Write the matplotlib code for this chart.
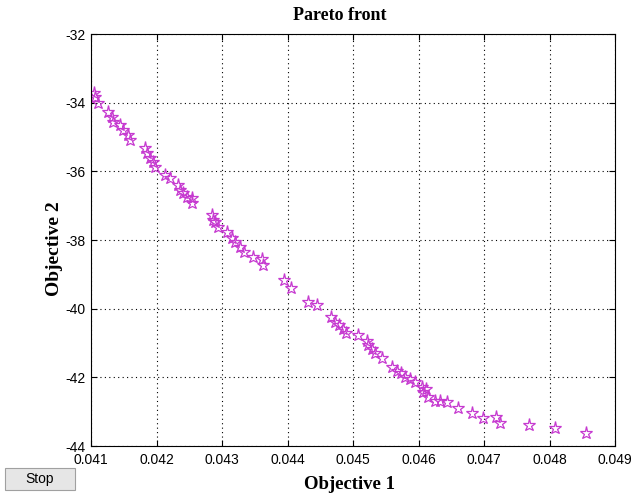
import matplotlib
matplotlib.use("Agg")
import matplotlib.pyplot as plt
from matplotlib.patches import FancyBboxPatch

# Pareto front points
obj1 = [0.04104, 0.04106, 0.04111, 0.04126, 0.04132, 0.04134, 0.04144, 0.04149,
        0.04157, 0.04160, 0.04182, 0.04185, 0.04190, 0.04195, 0.04198, 0.04213,
        0.04221, 0.04233, 0.04236, 0.04241, 0.04246, 0.04254, 0.04254, 0.04284,
        0.04287, 0.04289, 0.04294, 0.04307, 0.04315, 0.04320, 0.04327, 0.04333,
        0.04348, 0.04361, 0.04363, 0.04394, 0.04406, 0.04432, 0.04445, 0.04467,
        0.04473, 0.04478, 0.04485, 0.04490, 0.04507, 0.04521, 0.04523, 0.04529,
        0.04534, 0.04545, 0.04559, 0.04567, 0.04574, 0.04579, 0.04587, 0.04595,
        0.04605, 0.04607, 0.04612, 0.04615, 0.04625, 0.04633, 0.04643, 0.04661,
        0.04681, 0.04699, 0.04719, 0.04724, 0.04768, 0.04808, 0.04855]
obj2 = [-33.73, -33.83, -34.02, -34.26, -34.41, -34.55, -34.65, -34.80,
        -34.94, -35.09, -35.33, -35.47, -35.62, -35.72, -35.86, -36.11,
        -36.20, -36.40, -36.54, -36.64, -36.74, -36.79, -36.93, -37.27,
        -37.42, -37.47, -37.61, -37.76, -37.95, -38.05, -38.20, -38.34,
        -38.49, -38.56, -38.72, -39.17, -39.41, -39.80, -39.89, -40.23,
        -40.38, -40.48, -40.60, -40.70, -40.77, -40.93, -41.06, -41.18,
        -41.30, -41.45, -41.69, -41.81, -41.88, -41.98, -42.06, -42.13,
        -42.27, -42.42, -42.35, -42.56, -42.69, -42.70, -42.72, -42.90,
        -43.03, -43.17, -43.15, -43.34, -43.39, -43.47, -43.63]

xticks = [0.041, 0.042, 0.043, 0.044, 0.045, 0.046, 0.047, 0.048, 0.049]
xticklabels = ["0.041", "0.042", "0.043", "0.044", "0.045", "0.046", "0.047", "0.048", "0.049"]
yticks = [-44, -42, -40, -38, -36, -34, -32]

plt.rcParams['font.family'] = ['Liberation Sans', 'DejaVu Sans']
plt.rcParams['axes.unicode_minus'] = False
serif = ['Liberation Serif', 'DejaVu Serif']

fig = plt.figure(figsize=(6.31, 4.93), dpi=100)
fig.patch.set_facecolor('white')
ax = fig.add_axes([91 / 631, 1 - 446 / 493, 524 / 631, 412 / 493])

ax.plot(obj1, obj2, linestyle='none', marker='*', markersize=9.5,
        markerfacecolor='none', markeredgecolor='#c63ad0', markeredgewidth=0.9)

ax.set_xlim(0.041, 0.049)
ax.set_ylim(-44, -32)
ax.set_xticks(xticks)
ax.set_xticklabels(xticklabels)
ax.set_yticks(yticks)
ax.tick_params(direction='in', length=4, width=0.8, labelsize=10, colors='black',
               top=True, right=True)
ax.tick_params(axis='x', pad=5)
ax.tick_params(axis='y', pad=4)
ax.grid(True, color='black', linestyle=(0, (1, 3)), linewidth=0.8)
for s in ax.spines.values():
    s.set_linewidth(0.8)

ax.set_title("Pareto front", fontsize=13, fontweight='bold', family=serif,
             x=0.475, y=1.034, pad=0)
ax.set_xlabel("Objective 1", fontsize=13.5, fontweight='bold', family=serif)
ax.xaxis.set_label_coords(0.494, -0.072)
ax.set_ylabel("Objective 2", fontsize=14, fontweight='bold', family=serif)
ax.yaxis.set_label_coords(-0.053, 0.48)

# MATLAB-style "Stop" button
btn = FancyBboxPatch((5 / 631, 1 - 490 / 493), 70 / 631, 22 / 493,
                     boxstyle="square,pad=0", transform=fig.transFigure,
                     facecolor='#e6e6e6', edgecolor='#a0a0a0', linewidth=0.8)
fig.patches.append(btn)
fig.text(40 / 631, 1 - 479 / 493, "Stop", ha='center', va='center', fontsize=10)

fig.savefig("out.png", dpi=100)
